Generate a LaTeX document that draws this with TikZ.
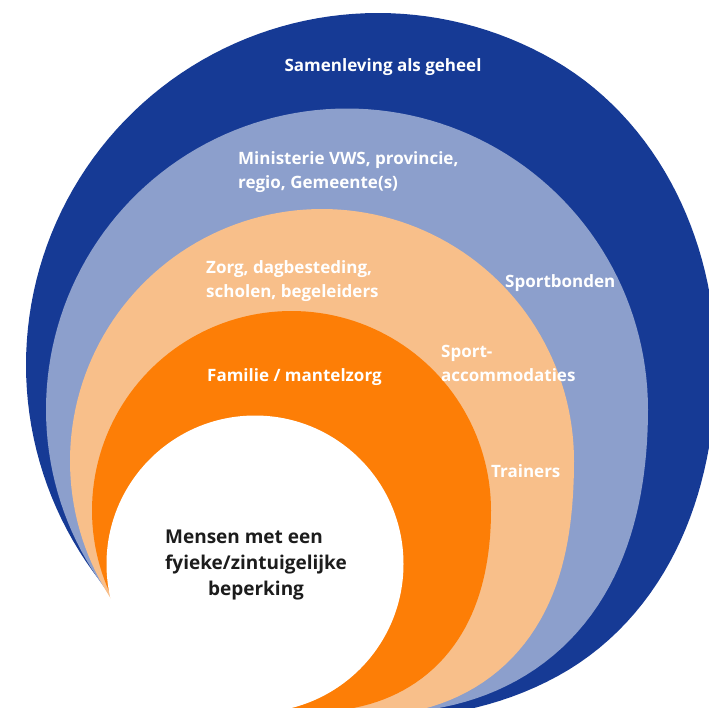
\documentclass[tikz,border=0pt]{standalone}
\usepackage{fontspec}
\setmainfont{Open Sans}
\usepackage{tikz}
\usetikzlibrary{positioning}
\definecolor{samenblue}{RGB}{22,58,149}
\definecolor{overheidblue}{RGB}{140,159,204}
\definecolor{zorgpeach}{RGB}{248,191,138}
\definecolor{familieorange}{RGB}{253,126,6}
\definecolor{kerntext}{RGB}{28,28,28}
\tikzstyle{lbl} = [anchor=base west, inner sep=0pt, text=white, align=left, font=\fontsize{17}{23.5}\selectfont\bfseries]
\tikzstyle{kern} = [anchor=base, inner sep=0pt, text=kerntext, align=center, font=\fontsize{19}{26}\selectfont\bfseries]
% ring: colour, centre x, centre y, radius, bulge lower right, trim right
\newcommand{\ringradius}[3]{(#1+#2*(\x<100)*pow(sin(1.8*\x),2)-#3*pow(max(0,2*cos(\x)-1),2))}
\newcommand{\ringshape}[6]{\fill[#1] plot[domain=0:360, samples=181] ({#2+\ringradius{#4}{#5}{#6}*cos(\x)}, {#3+\ringradius{#4}{#5}{#6}*sin(\x)}) -- cycle;}

\begin{document}
\begin{tikzpicture}[x=1pt, y=-1pt]
    \useasboundingbox (0,0) rectangle (709,707);
    \clip (0,0) rectangle (709,707);
    \ringshape{samenblue}{378}{365}{352}{8}{14}
    \ringshape{overheidblue}{347}{409.5}{301}{20}{0}
    \ringshape{zorgpeach}{322}{461}{252}{22}{0}
    \ringshape{familieorange}{291.5}{510.5}{199.5}{13}{0}
    \fill[white] (255,564) circle (148.5pt);

    \node (samenleving) [lbl, anchor=base] at (383,71) {Samenleving als geheel};
    \node (ministerie) [lbl] at (238,188) {Ministerie VWS, provincie,\\regio, Gemeente(s)};
    \node (zorg) [lbl] at (206,297) {Zorg, dagbesteding,\\scholen, begeleiders};
    \node (sportbonden) [lbl] at (505,287) {Sportbonden};
    \node (accommodaties) [lbl] at (441,381) {Sport-\\accommodaties};
    \node (familie) [lbl] at (207,381) {Familie / mantelzorg};
    \node (trainers) [lbl] at (491,477) {Trainers};
    \node (mensen) [kern] at (256,595) {\rlap{Mensen met een}\phantom{fyieke/zintuigelijke}\\fyieke/zintuigelijke\\beperking};
\end{tikzpicture}
\end{document}
